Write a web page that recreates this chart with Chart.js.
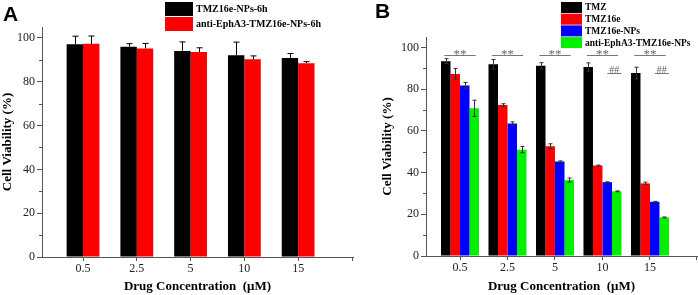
<!DOCTYPE html>
<html>
<head>
<meta charset="utf-8">
<script src="https://cdn.jsdelivr.net/npm/chart.js@4.4.1/dist/chart.umd.min.js"></script>
<style>
html, body { margin: 0; padding: 0; background: #fff; }
#wrap { position: relative; width: 699px; height: 295px; overflow: hidden; }
#chartA { position: absolute; left: 0; top: 0; }
#chartB { position: absolute; left: 350px; top: 0; }
</style>
</head>
<body>
<div id="wrap">
  <canvas id="chartA" width="360" height="295"></canvas>
  <canvas id="chartB" width="349" height="295"></canvas>
</div>
<script>
// drug concentrations (uM)
const concLabels = ['0.5', '2.5', '5', '10', '15'];

// panel A, 6h
const npsLabel = 'TMZ16e-NPs-6h';
const npsMean = [97.1, 96.0, 94.1, 92.1, 90.8];
const npsErr = [3.7, 1.4, 4.1, 6.0, 2.1];
const antiLabel6h = 'anti-EphA3-TMZ16e-NPs-6h';
const anti6hMean = [97.3, 95.2, 93.6, 90.3, 88.5];
const anti6hErr = [3.6, 2.3, 1.9, 1.5, 0.7];

// panel B
const groupLabels = ['TMZ', 'TMZ16e', 'TMZ16e-NPs', 'anti-EphA3-TMZ16e-NPs'];
const tmzMean = [93.4, 91.9, 91.2, 90.6, 87.7];
const tmzErr = [1.2, 2.3, 1.5, 2.0, 2.8];
const tmz16eMean = [87.3, 72.4, 52.6, 43.4, 34.8];
const tmz16eErr = [2.6, 0.6, 1.2, 0.2, 0.6];
const tmzNpsMean = [81.8, 63.5, 45.3, 35.4, 26.0];
const tmzNpsErr = [1.4, 0.8, 0.3, 0.2, 0.2];
const antiMean = [70.8, 51.0, 36.4, 31.0, 18.5];
const antiErr = [3.9, 1.5, 1.0, 0.2, 0.2];
const starMarks = ['**', '**', '**', '**', '**'];
const hashMarks = ['', '', '', '##', '##'];

const yTicks = [0, 20, 40, 60, 80, 100];
const yMinor = [10, 30, 50, 70, 90];

const serif = "'Liberation Serif', 'Times New Roman', serif";
const axisColor = '#555';

function pts(arr) {
  return arr.map((v, i) => ({ x: i, y: v }));
}

// error bars drawn from each dataset's errors array
const errorBars = {
  id: 'errorBars',
  afterDatasetsDraw(chart, args, opts) {
    const ctx = chart.ctx;
    const ys = chart.scales.y;
    ctx.save();
    ctx.strokeStyle = opts.color;
    ctx.lineWidth = 1;
    chart.data.datasets.forEach((ds, i) => {
      const meta = chart.getDatasetMeta(i);
      meta.data.forEach((bar, j) => {
        const v = ds.data[j].y, e = ds.errors[j];
        const x = Math.round(bar.x) + 0.5;
        const top = ys.getPixelForValue(v + e);
        const bot = opts.both ? ys.getPixelForValue(v - e) : bar.y;
        const cap = opts.cap;
        ctx.beginPath();
        ctx.moveTo(x, top); ctx.lineTo(x, bot);
        ctx.moveTo(x - cap, top); ctx.lineTo(x + cap, top);
        if (opts.both) { ctx.moveTo(x - cap, bot); ctx.lineTo(x + cap, bot); }
        ctx.stroke();
      });
    });
    ctx.restore();
  }
};

// minor y ticks, end tick of x axis, panel letter and box legend
const decorations = {
  id: 'decorations',
  afterDraw(chart, args, opts) {
    const ctx = chart.ctx;
    const ys = chart.scales.y, area = chart.chartArea;
    ctx.save();
    ctx.strokeStyle = axisColor;
    ctx.lineWidth = 1;
    ctx.beginPath();
    yMinor.forEach(v => {
      const y = Math.round(ys.getPixelForValue(v)) + 0.5;
      ctx.moveTo(area.left - 3, y); ctx.lineTo(area.left, y);
    });
    const r = Math.round(area.right) - 0.5;
    ctx.moveTo(r, area.bottom); ctx.lineTo(r, area.bottom + 4);
    ctx.stroke();

    ctx.fillStyle = '#000';
    ctx.font = 'bold 21px "Liberation Sans", Arial, sans-serif';
    ctx.textBaseline = 'alphabetic';
    ctx.textAlign = 'left';
    ctx.fillText(opts.letter, opts.letterX, opts.letterY);

    const lg = opts.legend;
    ctx.font = 'bold ' + lg.fontSize + 'px ' + serif;
    ctx.textBaseline = 'middle';
    chart.data.datasets.forEach((ds, i) => {
      const y = lg.y + i * lg.rowH;
      ctx.fillStyle = ds.backgroundColor;
      ctx.fillRect(lg.x, y, lg.boxW, lg.boxH);
      ctx.fillStyle = '#000';
      ctx.fillText(ds.label, lg.x + lg.boxW + 3, y + lg.boxH / 2 + 0.5);
    });
    ctx.restore();
  }
};

// significance marks for panel B
const significance = {
  id: 'significance',
  afterDatasetsDraw(chart, args, opts) {
    if (!opts.enabled) return;
    const ctx = chart.ctx;
    const xs = chart.scales.x, ys = chart.scales.y;
    const step = xs.getPixelForValue(1) - xs.getPixelForValue(0);
    ctx.save();
    ctx.strokeStyle = '#777';
    ctx.fillStyle = '#666';
    ctx.lineWidth = 1;
    ctx.textAlign = 'center';
    ctx.font = '13px ' + serif;
    starMarks.forEach((m, j) => {
      if (!m) return;
      const cx = xs.getPixelForValue(j);
      const y = Math.round(ys.getPixelForValue(opts.starValue)) + 0.5;
      ctx.beginPath();
      ctx.moveTo(cx - step * 0.33, y); ctx.lineTo(cx + step * 0.33, y);
      ctx.stroke();
      ctx.textBaseline = 'alphabetic';
      ctx.fillText(m, cx, y + 2);
    });
    ctx.font = '10px ' + serif;
    hashMarks.forEach((m, j) => {
      if (!m) return;
      const cx = xs.getPixelForValue(j) + step * 0.25;
      const y = Math.round(ys.getPixelForValue(opts.hashValue)) + 0.5;
      ctx.beginPath();
      ctx.moveTo(cx - 7, y); ctx.lineTo(cx + 7, y);
      ctx.stroke();
      ctx.textBaseline = 'alphabetic';
      ctx.fillText(m, cx, y - 0.5);
    });
    ctx.restore();
  }
};

function makeOptions(p) {
  return {
    responsive: false,
    animation: false,
    layout: { padding: { left: p.padLeft, top: p.padTop, right: p.padRight, bottom: 0 } },
    plugins: {
      legend: { display: false },
      tooltip: { enabled: false },
      errorBars: { both: p.bothErr, cap: p.cap, color: p.errColor },
      decorations: p.decor,
      significance: p.sig
    },
    scales: {
      x: {
        type: 'linear',
        offset: false,
        min: p.xMin,
        max: p.xMax,
        afterBuildTicks: s => { s.ticks = concLabels.map((_, i) => ({ value: i })); },
        afterFit: s => { s.height = p.xHeight; },
        ticks: {
          callback: v => concLabels[v],
          font: { family: serif, size: 12 },
          color: '#222',
          padding: 1,
          maxRotation: 0,
          autoSkip: false
        },
        grid: { offset: false, drawOnChartArea: false, drawTicks: true, tickLength: 4, color: axisColor },
        border: { color: axisColor, width: 1 },
        title: {
          display: true,
          text: 'Drug Concentration  (\u03bcM)',
          font: { family: serif, size: 13, weight: 'bold' },
          color: '#000',
          padding: { top: 0, bottom: 1 }
        }
      },
      y: {
        min: 0,
        max: 105,
        afterBuildTicks: s => { s.ticks = yTicks.map(v => ({ value: v })); },
        afterFit: s => { s.width = p.yWidth; },
        ticks: {
          font: { family: serif, size: 12 },
          color: '#222',
          padding: 2
        },
        grid: { drawOnChartArea: false, drawTicks: true, tickLength: 5, color: axisColor },
        border: { color: axisColor, width: 1 },
        title: {
          display: true,
          text: 'Cell Viability (%)',
          font: { family: serif, size: 13, weight: 'bold' },
          color: '#000',
          padding: { top: 0, bottom: 0 }
        }
      }
    }
  };
}

const chartA = new Chart(document.getElementById('chartA'), {
  type: 'bar',
  data: {
    datasets: [
      { label: npsLabel, data: pts(npsMean), errors: npsErr, backgroundColor: '#000000',
        categoryPercentage: 0.61, barPercentage: 1.0 },
      { label: antiLabel6h, data: pts(anti6hMean), errors: anti6hErr, backgroundColor: '#ff0000',
        categoryPercentage: 0.61, barPercentage: 1.0 }
    ]
  },
  options: makeOptions({
    padLeft: 0, padTop: 27, padRight: 7,
    xMin: -0.763, xMax: 5.02, xHeight: 38, yWidth: 42,
    bothErr: false, cap: 3, errColor: '#000',
    decor: {
      letter: 'A', letterX: 3, letterY: 21,
      legend: { x: 165, y: 2, boxW: 28, boxH: 14, rowH: 15, fontSize: 10 }
    },
    sig: { enabled: false }
  }),
  plugins: [errorBars, decorations, significance]
});

const colorsB = ['#000000', '#ff0000', '#0000ff', '#00f000'];
const meansB = [tmzMean, tmz16eMean, tmzNpsMean, antiMean];
const errsB = [tmzErr, tmz16eErr, tmzNpsErr, antiErr];

const chartB = new Chart(document.getElementById('chartB'), {
  type: 'bar',
  data: {
    datasets: groupLabels.map((lab, i) => ({
      label: lab,
      data: pts(meansB[i]),
      errors: errsB[i],
      backgroundColor: colorsB[i],
      categoryPercentage: 0.8,
      barPercentage: 1.0
    }))
  },
  options: makeOptions({
    padLeft: 30, padTop: 37, padRight: 2,
    xMin: -0.716, xMax: 4.99, xHeight: 39, yWidth: 46,
    bothErr: true, cap: 2, errColor: '#333',
    decor: {
      letter: 'B', letterX: 25, letterY: 18,
      legend: { x: 211, y: 2, boxW: 21, boxH: 11, rowH: 11.7, fontSize: 9.5 }
    },
    sig: { enabled: true, starValue: 96.2, hashValue: 87.8 }
  }),
  plugins: [errorBars, decorations, significance]
});
</script>
</body>
</html>
